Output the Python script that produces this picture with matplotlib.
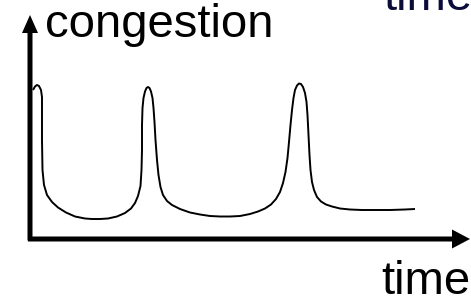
import matplotlib
matplotlib.use("Agg")
import matplotlib.pyplot as plt

# Curve (time offset from y-axis, congestion height above x-axis), in pixel units
px = [33, 35, 37, 39, 41, 42, 42, 42, 42.5, 44, 47, 52, 58, 66, 75, 85, 92, 100, 108, 117, 125, 131, 135, 138, 140.5, 141.5, 142, 142, 142.5, 143.5, 145, 146.5, 148, 149.5, 151, 152.5, 153.5, 154.5, 155.5, 157, 158.5, 160.5, 163, 167, 172, 180, 190, 200, 210, 220, 230, 240, 250, 258, 265, 271, 276, 280, 283, 285.5, 287.5, 289, 290.5, 292, 293.5, 295, 297, 299, 301, 303, 305, 306.5, 307.5, 308.5, 309.5, 310.5, 312, 314, 317, 321, 326, 332, 340, 350, 362, 375, 390, 405, 415]
py = [90, 86.5, 85, 86, 90, 97, 110, 140, 170, 185, 195, 202, 207.5, 212.5, 216.5, 218.5, 219, 219, 218.5, 216.5, 213, 208.5, 203, 196, 186, 170, 150, 125, 108, 98, 91.5, 88, 87, 88, 91.5, 98, 108, 122, 140, 160, 175, 187, 195, 201, 205, 209, 212.5, 214.5, 216, 216.5, 216.5, 216, 214, 211.5, 208.5, 204.5, 199, 192, 183, 172, 158, 142, 125, 110, 98, 90, 85.5, 83.5, 84, 87, 93, 102, 115, 135, 155, 170, 182, 190, 197, 201.5, 204.5, 206.5, 208.5, 209.5, 210, 210, 210, 209.5, 209]

x0, y0 = 30, 239
time_vals = [p - x0 for p in px]
congestion_vals = [y0 - p for p in py]

W, H = 471, 303
fig = plt.figure(figsize=(W / 100, H / 100), dpi=100)
ax = fig.add_axes([0, 0, 1, 1])
ax.set_xlim(-x0, W - x0)
ax.set_ylim(y0 - H, y0)
ax.axis("off")

# axes arrows
ax.arrow(-2, 0, 442, 0, width=5, head_width=19, head_length=18,
         length_includes_head=True, color="black", lw=0)
ax.arrow(0, -1.5, 0, 225.5, width=5, head_width=16, head_length=18,
         length_includes_head=True, color="black", lw=0)

ax.plot(time_vals, congestion_vals, color="black", lw=1.4,
        solid_capstyle="butt", solid_joinstyle="round")

font = "Liberation Sans"
ax.text(45 - x0, y0 - 37, "congestion", fontsize=34, family=font,
        ha="left", va="baseline", color="black")
ax.text(470 - x0, y0 - 294, "time", fontsize=34, family=font,
        ha="right", va="baseline", color="black")
ax.text(383 - x0, y0 - 10, "time", fontsize=34, family=font,
        ha="left", va="baseline", color="#0c0c3a")

fig.savefig("out.png", dpi=100)
